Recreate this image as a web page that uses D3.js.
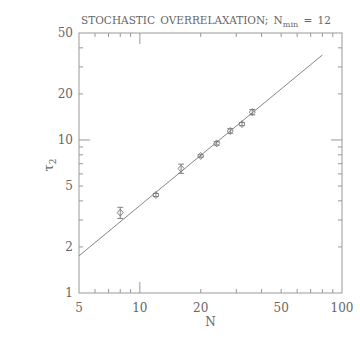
<!DOCTYPE html>
<html>
<head>
<meta charset="utf-8">
<script src="https://cdn.jsdelivr.net/npm/d3@7"></script>
<style>
  body { margin: 0; background: #fff; }
  text { font-family: "DejaVu Serif", "Liberation Serif", serif; fill: #666; }
</style>
</head>
<body>
<div id="chart"></div>
<script>
// measured points: lattice size N, autocorrelation time tau_2 and its error
const sizes = [8, 12, 16, 20, 24, 28, 32, 36];
const tau = [3.35, 4.37, 6.5, 7.86, 9.5, 11.45, 12.7, 15.2];
const tauErr = [0.28, 0.1, 0.45, 0.15, 0.25, 0.4, 0.3, 0.6];

// fitted power law tau = a * N^z, drawn from N=5 to N=80
const fitRange = [5, 80];
const fitA = 1.75 / Math.pow(5, 1.09);
const fitZ = 1.09;

const xTickLabels = [5, 10, 20, 50, 100];
const yTickLabels = [1, 2, 5, 10, 20, 50];

const width = 360, height = 360;
const margin = {top: 33, right: 18, bottom: 67, left: 79};

const svg = d3.select('#chart').append('svg')
    .attr('width', width)
    .attr('height', height);

const x = d3.scaleLog().domain([5, 100]).range([margin.left, width - margin.right]);
const y = d3.scaleLog().domain([1, 50]).range([height - margin.bottom, margin.top]);

const frameColor = '#999';
const markColor = '#777';

// frame
svg.append('rect')
    .attr('x', x(5)).attr('y', y(50))
    .attr('width', x(100) - x(5)).attr('height', y(1) - y(50))
    .attr('fill', 'none').attr('stroke', frameColor).attr('stroke-width', 1);

// tick positions (minor everywhere, longer at 10)
const xTicks = [6, 7, 8, 9, 10, 20, 30, 40, 50, 60, 70, 80, 90];
const yTicks = [2, 3, 4, 5, 6, 7, 8, 9, 10, 20, 30, 40];
const tickLen = d => d === 10 ? 11 : 4;

const ticks = svg.append('g').attr('stroke', frameColor).attr('stroke-width', 1);
xTicks.forEach(d => {
    ticks.append('line').attr('x1', x(d)).attr('x2', x(d))
        .attr('y1', y(1)).attr('y2', y(1) - tickLen(d));
    ticks.append('line').attr('x1', x(d)).attr('x2', x(d))
        .attr('y1', y(50)).attr('y2', y(50) + tickLen(d));
});
yTicks.forEach(d => {
    ticks.append('line').attr('y1', y(d)).attr('y2', y(d))
        .attr('x1', x(5)).attr('x2', x(5) + tickLen(d));
    ticks.append('line').attr('y1', y(d)).attr('y2', y(d))
        .attr('x1', x(100)).attr('x2', x(100) - tickLen(d));
});

// tick labels
svg.append('g').selectAll('text')
    .data(xTickLabels)
    .enter().append('text')
    .attr('x', d => x(d))
    .attr('y', y(1) + 19)
    .attr('text-anchor', 'middle')
    .attr('font-size', 12)
    .text(d => d);

svg.append('g').selectAll('text')
    .data(yTickLabels)
    .enter().append('text')
    .attr('x', x(5) - 6)
    .attr('y', d => y(d) + 4)
    .attr('text-anchor', 'end')
    .attr('font-size', 12)
    .text(d => d);

// fit line
const fitData = fitRange.map(n => ({n: n, t: fitA * Math.pow(n, fitZ)}));
svg.append('path')
    .datum(fitData)
    .attr('fill', 'none')
    .attr('stroke', markColor)
    .attr('stroke-width', 0.9)
    .attr('d', d3.line().x(d => x(d.n)).y(d => y(d.t)));

// data points with error bars
const points = sizes.map((n, i) => ({n: n, t: tau[i], e: tauErr[i]}));
const pt = svg.append('g').selectAll('.pt')
    .data(points)
    .enter().append('g')
    .attr('class', 'pt')
    .attr('stroke', markColor)
    .attr('stroke-width', 0.9)
    .attr('fill', 'none');

pt.append('line')
    .attr('x1', d => x(d.n)).attr('x2', d => x(d.n))
    .attr('y1', d => y(d.t - d.e)).attr('y2', d => y(d.t + d.e));
pt.append('line')
    .attr('x1', d => x(d.n) - 3).attr('x2', d => x(d.n) + 3)
    .attr('y1', d => y(d.t + d.e)).attr('y2', d => y(d.t + d.e));
pt.append('line')
    .attr('x1', d => x(d.n) - 3).attr('x2', d => x(d.n) + 3)
    .attr('y1', d => y(d.t - d.e)).attr('y2', d => y(d.t - d.e));
pt.append('path')
    .attr('transform', d => `translate(${x(d.n)},${y(d.t)})`)
    .attr('d', 'M0,-3.5L3,0L0,3.5L-3,0Z');

// title
const title = svg.append('text')
    .attr('x', 206)
    .attr('y', 24)
    .attr('text-anchor', 'middle')
    .attr('font-size', 10.5)
    .attr('word-spacing', 2);
title.append('tspan').text('STOCHASTIC OVERRELAXATION; N');
title.append('tspan').attr('font-size', 8).attr('dy', 3).text('min');
title.append('tspan').attr('dy', -3).text(' = 12');

// axis labels
svg.append('text')
    .attr('x', (x(5) + x(100)) / 2)
    .attr('y', y(1) + 33)
    .attr('text-anchor', 'middle')
    .attr('font-size', 12)
    .text('N');

const yl = svg.append('text')
    .attr('transform', `translate(53,${(y(1) + y(50)) / 2 + 2}) rotate(-90)`)
    .attr('text-anchor', 'middle')
    .attr('font-size', 13);
yl.append('tspan').text('τ');
yl.append('tspan').attr('font-size', 9).attr('dy', 3).text('2');
</script>
</body>
</html>
